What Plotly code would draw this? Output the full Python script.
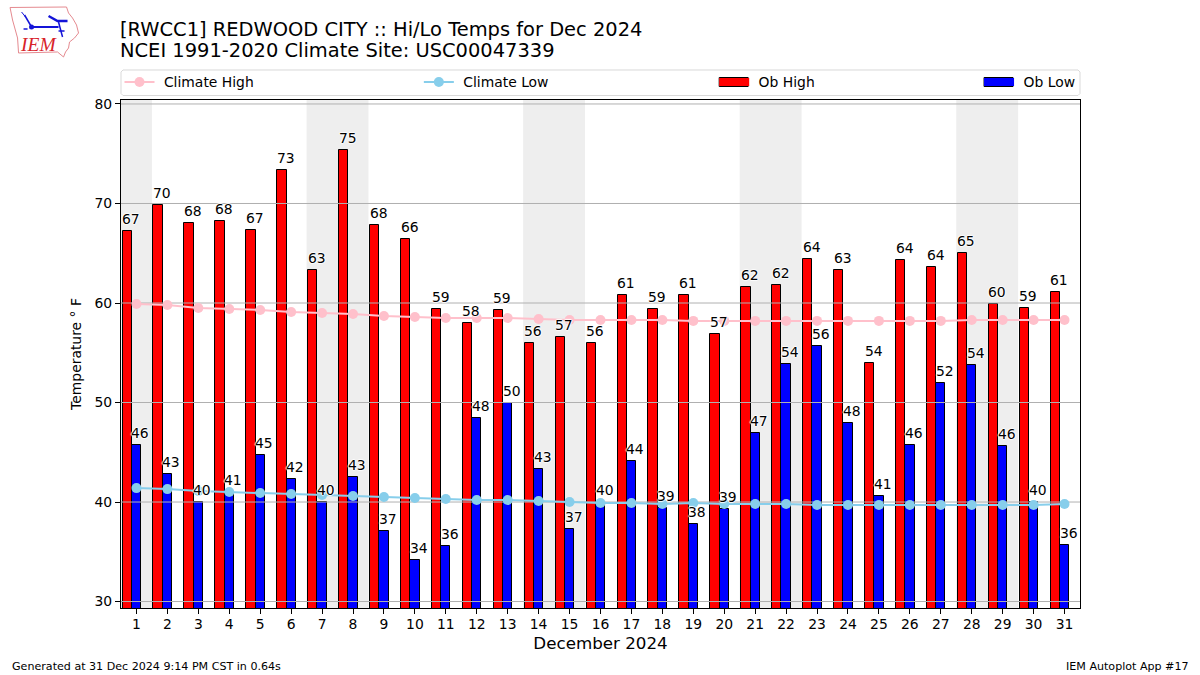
import plotly.graph_objects as go

days = list(range(1, 32))
ob_high = [67.2, 69.8, 68.0, 68.2, 67.3, 73.4, 63.3, 75.4, 67.8, 66.4, 59.4, 58.0, 59.3, 56.0, 56.6, 56.0,
           60.8, 59.4, 60.8, 56.9, 61.6, 61.8, 64.4, 63.3, 54.0, 64.3, 63.6, 65.0, 59.9, 59.5, 61.1]
ob_low = [45.7, 42.8, 40.0, 41.0, 44.7, 42.3, 40.0, 42.5, 37.1, 34.2, 35.6, 48.4, 50.0, 43.3, 37.3, 40.0,
          44.1, 39.4, 37.8, 39.3, 46.9, 53.9, 55.7, 47.9, 40.6, 45.7, 52.0, 53.8, 45.6, 40.0, 35.7]
high_labels = [67, 70, 68, 68, 67, 73, 63, 75, 68, 66, 59, 58, 59, 56, 57, 56,
               61, 59, 61, 57, 62, 62, 64, 63, 54, 64, 64, 65, 60, 59, 61]
low_labels = [46, 43, 40, 41, 45, 42, 40, 43, 37, 34, 36, 48, 50, 43, 37, 40,
              44, 39, 38, 39, 47, 54, 56, 48, 41, 46, 52, 54, 46, 40, 36]
climate_high = [59.9, 59.8, 59.5, 59.4, 59.3, 59.1, 59.0, 58.9, 58.7, 58.6, 58.5, 58.5, 58.5, 58.4, 58.3, 58.3,
                58.3, 58.3, 58.2, 58.2, 58.2, 58.2, 58.2, 58.2, 58.2, 58.2, 58.2, 58.3, 58.3, 58.3, 58.3]
climate_low = [41.4, 41.3, 41.1, 41.0, 40.9, 40.8, 40.7, 40.6, 40.5, 40.4, 40.3, 40.2, 40.2, 40.1, 40.0, 39.9,
               39.9, 39.8, 39.9, 39.8, 39.8, 39.8, 39.7, 39.7, 39.7, 39.7, 39.7, 39.7, 39.7, 39.7, 39.8]
y_ticks = [30, 40, 50, 60, 70, 80]
weekend_spans = [(0.5, 1.5), (6.5, 8.5), (13.5, 15.5), (20.5, 22.5), (27.5, 29.5)]

FONT = "DejaVu Sans"
W, H = 1200, 675
L, R, T, B = 120.5, 120, 100, 67
PW, PH = W - L - R, H - T - B
NBSP = "\u00a0"  # widens the gap between a legend key and its label


def px(x):
    return (x - L) / PW


def py(y):
    return (H - B - y) / PH


fig = go.Figure()
fig.add_trace(go.Bar(x=[d - 0.3 for d in days], y=ob_high, width=0.3, name="Ob High", showlegend=False,
                     marker=dict(color="#ff0000", line=dict(color="black", width=1))))
fig.add_trace(go.Bar(x=days, y=ob_low, width=0.3, name="Ob Low", showlegend=False,
                     marker=dict(color="#0000ff", line=dict(color="black", width=1))))

grid_x, grid_y = [], []
for t in y_ticks:
    grid_x += [0.5, 31.5, None]
    grid_y += [t, t, None]
fig.add_trace(go.Scatter(x=grid_x, y=grid_y, mode="lines", line=dict(color="#b0b0b0", width=1),
                         showlegend=False, hoverinfo="skip"))
fig.add_trace(go.Scatter(x=days, y=climate_high, name=NBSP + "Climate High", legend="legend",
                         mode="lines+markers", line=dict(color="#ffc0cb", width=2),
                         marker=dict(color="#ffc0cb", size=10)))
fig.add_trace(go.Scatter(x=days, y=climate_low, name=NBSP + "Climate Low", legend="legend2",
                         mode="lines+markers", line=dict(color="#87ceeb", width=2),
                         marker=dict(color="#87ceeb", size=10)))
# Legend keys for the bars: plotly's own bar key is a small square, the reference's is a wide bar.
fig.add_trace(go.Scatter(x=[None], y=[None], name=NBSP + "Ob High", legend="legend3", mode="lines",
                         line=dict(color="#ff0000", width=8)))
fig.add_trace(go.Scatter(x=[None], y=[None], name=NBSP + "Ob Low", legend="legend4", mode="lines",
                         line=dict(color="#0000ff", width=8)))

HALO = "-1px 0 1px #fff,1px 0 1px #fff,0 -1px 1px #fff,0 1px 1px #fff"
annotations = []
for d, v, lab in zip(days, ob_high, high_labels):
    annotations.append(dict(x=d - 0.3, y=v, text=str(lab), showarrow=False, xshift=4, yshift=2, yanchor="bottom",
                            font=dict(family=FONT, size=13.9, color="black", shadow=HALO)))
for d, v, lab in zip(days, ob_low, low_labels):
    annotations.append(dict(x=d, y=v, text=str(lab), showarrow=False, xshift=4, yshift=2, yanchor="bottom",
                            font=dict(family=FONT, size=13.9, color="black", shadow=HALO)))


def page_text(x, y, text, size, color="black", xanchor="left", yanchor="middle", family=FONT, **kw):
    shift = {"left": -3, "right": 3}.get(xanchor, 0)
    annotations.append(dict(xref="paper", yref="paper", x=px(x), y=py(y), text=text, showarrow=False,
                            xanchor=xanchor, yanchor=yanchor, xshift=shift,
                            font=dict(family=family, size=size, color=color), **kw))


page_text(120, 29, "[RWCC1] REDWOOD CITY :: Hi/Lo Temps for Dec 2024", 19.45)
page_text(120, 51, "NCEI 1991-2020 Climate Site: USC00047339", 19.45)
page_text(12, 666, "Generated at 31 Dec 2024 9:14 PM CST in 0.64s", 11.1)
page_text(1188, 666, "IEM Autoplot App #17", 11.1, xanchor="right")
page_text(37.5, 45, "<i>IEM</i>", 19.5, color="#d8232a", xanchor="center", family="Liberation Serif")

shapes = []
for a, b in weekend_spans:
    shapes.append(dict(type="rect", xref="x", yref="paper", x0=a, x1=b, y0=0, y1=1,
                       fillcolor="#eeeeee", line=dict(width=0), layer="below"))


def path(points, close=False):
    s = "M" + " L".join(f"{px(x):.5f},{py(y):.5f}" for x, y in points)
    return s + (" Z" if close else "")


def page_path(points, color, width, close=False, fill=None):
    d = dict(type="path", xref="paper", yref="paper", path=path(points, close),
             line=dict(color=color, width=width))
    if fill:
        d["fillcolor"] = fill
    shapes.append(d)


# legend frame
lx0, lx1, ly0, ly1 = 120.5, 1080, 70, 95.5
page_path([(lx0 + 2, ly0), (lx1 - 2, ly0), (lx1, ly0 + 2), (lx1, ly1 - 2), (lx1 - 2, ly1), (lx0 + 2, ly1),
           (lx0, ly1 - 2), (lx0, ly0 + 2)], "#d9d9d9", 1, close=True)
for kx0, kx1 in [(719, 748), (984, 1013)]:
    shapes.append(dict(type="rect", xref="paper", yref="paper", x0=px(kx0), x1=px(kx1), y0=py(86.5), y1=py(77.5),
                       line=dict(color="black", width=1)))

# logo
page_path([(9.5, 7.5), (66, 7), (68, 13), (72, 18), (76, 25), (78, 33), (74, 38), (69, 42), (68, 48), (65, 52),
           (63, 57), (57, 52), (18, 53), (17, 38), (12, 20)], "#e58a90", 1, close=True)
page_path([(31, 27), (58, 27)], "#1414d8", 2)
page_path([(31, 27), (24, 15)], "#1414d8", 1.5)
page_path([(21, 12), (25, 17)], "#1414d8", 1)
page_path([(48, 16), (57, 21), (67, 21)], "#1414d8", 2.5)
page_path([(58, 22), (62, 37)], "#1414d8", 1.5)
page_path([(58, 31), (64, 31)], "#1414d8", 1.5)
page_path([(23, 29), (27, 29)], "#1414d8", 1.5)
shapes.append(dict(type="circle", xref="paper", yref="paper", x0=px(28.5), x1=px(33.5), y0=py(29.5), y1=py(24.5),
                   fillcolor="#1414d8", line=dict(width=0)))

legend_common = dict(bgcolor="rgba(0,0,0,0)", borderwidth=0, xanchor="left", yanchor="middle", itemwidth=30,
                     font=dict(family=FONT, size=13.9, color="black"))
y_leg = py(82.5)

fig.update_layout(
    width=W, height=H, margin=dict(l=L, r=R, t=T, b=B, pad=0), autosize=False,
    paper_bgcolor="white", plot_bgcolor="white", barmode="overlay", bargap=0,
    font=dict(family=FONT, size=13.9, color="black"),
    shapes=shapes, annotations=annotations, hovermode=False,
    legend=dict(x=px(119), y=y_leg, **legend_common),
    legend2=dict(x=px(418.5), y=y_leg, **legend_common),
    legend3=dict(x=px(714), y=y_leg, **legend_common),
    legend4=dict(x=px(979), y=y_leg, **legend_common),
    xaxis=dict(range=[0.5, 31.5], tickmode="array", tickvals=days, ticktext=[str(d) for d in days],
               ticks="outside", ticklen=5, tickwidth=1, tickcolor="black", showgrid=False, zeroline=False,
               showline=True, linecolor="black", linewidth=1, mirror=True, ticklabelstandoff=-2,
               title=dict(text="December 2024", font=dict(family=FONT, size=16.7), standoff=6)),
    yaxis=dict(range=[29.35, 80.4], tickmode="array", tickvals=y_ticks, ticktext=[str(t) for t in y_ticks],
               ticks="outside", ticklen=5, tickwidth=1, tickcolor="black", showgrid=False, zeroline=False,
               showline=True, linecolor="black", linewidth=1, mirror=True,
               title=dict(text="Temperature ° F", font=dict(family=FONT, size=13.9), standoff=9)),
)
fig.write_html("out.html", config={"displayModeBar": False},
               post_script="document.body.style.margin='0';")
